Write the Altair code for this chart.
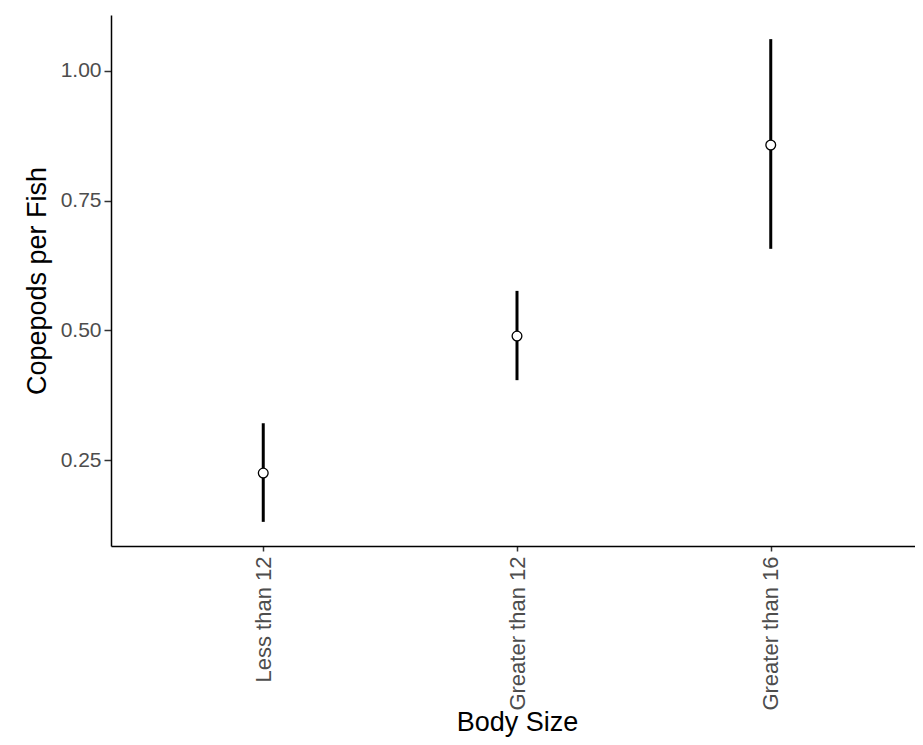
import altair as alt
import pandas as pd

categories = ["Less than 12", "Greater than 12", "Greater than 16"]
mean_vals = [0.225, 0.489, 0.857]
lower_vals = [0.131, 0.404, 0.657]
upper_vals = [0.321, 0.576, 1.061]
y_ticks = [0.25, 0.50, 0.75, 1.00]

df = pd.DataFrame({"size": categories, "mean": mean_vals, "lo": lower_vals, "hi": upper_vals})

lo_all, hi_all = min(lower_vals), max(upper_vals)
ext = (hi_all - lo_all) * 0.05
ydom = [lo_all - ext, hi_all + ext]

FONT = "Liberation Sans"

x_scale = alt.Scale(type="point", padding=0.6, range=[0, 812])
x_enc = alt.X("size:N", sort=categories, scale=x_scale,
              axis=alt.Axis(title="Body Size", labelAngle=-90, labelPadding=5, tickSize=5,
                            labelFontSize=22, titleBaseline="alphabetic", titleY=184))
y_scale = alt.Scale(domain=ydom, nice=False, zero=False)

bars = alt.Chart(df).mark_rule(color="black", strokeWidth=3).encode(
    x=x_enc,
    y=alt.Y("lo:Q", scale=y_scale,
            axis=alt.Axis(title="Copepods per Fish", values=y_ticks, format=".2f",
                          tickSize=7, labelPadding=3, labelFontSize=21, titlePadding=9)),
    y2="hi:Q",
)

pts = alt.Chart(df).mark_point(shape="circle", filled=True, fill="white", stroke="black",
                               strokeWidth=1.3, size=95, opacity=1).encode(
    x=alt.X("size:N", sort=categories),
    y=alt.Y("mean:Q"),
)

chart = alt.layer(bars, pts).properties(
    width=804, height=531,
    autosize=alt.AutoSizeParams(type="none"),
    padding={"left": 103, "top": 7, "right": 0, "bottom": 191},
    background="white",
).configure_view(stroke=None).configure_axis(
    grid=False,
    domainColor="black", domainWidth=1.5,
    tickColor="#333333", tickWidth=1.5,
    labelColor="#4D4D4D", labelFont=FONT,
    titleFont=FONT, titleFontSize=27, titleFontWeight="normal", titleColor="black",
)

chart.save("out.html", embed_options={"renderer": "svg", "actions": False})
